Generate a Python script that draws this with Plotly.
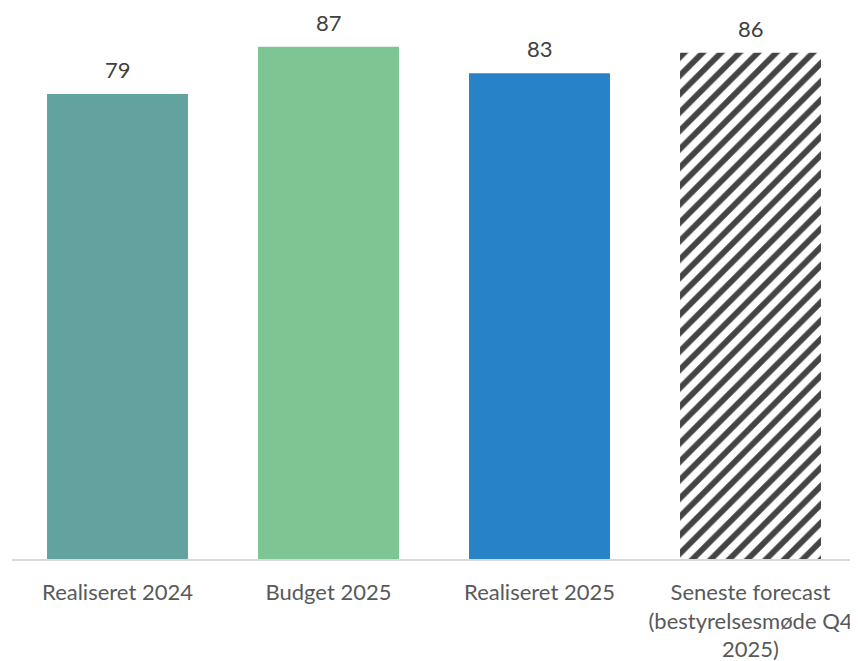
import plotly.graph_objects as go

categories = ["Realiseret 2024", "Budget 2025", "Realiseret 2025",
              "Seneste forecast<br>(bestyrelsesmøde Q4<br>2025)"]
values = [79, 87, 82.5, 86]
colors = ["#62A39F", "#7DC592", "#2882C8", "#FFFFFF"]
shapes = ["", "", "", "/"]

fig = go.Figure()
fig.add_trace(go.Bar(
    x=categories, y=values,
    marker=dict(color=colors, line=dict(width=0),
                pattern=dict(shape=shapes, fgcolor="#000000", bgcolor="#FFFFFF",
                             fgopacity=1, size=13, solidity=0.45)),
    width=0.668,
))
for c, v in zip(categories, values):
    fig.add_annotation(x=c, y=v, text=str(int(v + 0.5)), showarrow=False,
                       yanchor="bottom", yshift=9,
                       font=dict(size=22, color="#404040", family="Lato"))

fig.update_layout(
    width=850, height=654,
    margin=dict(l=4, r=2, t=0, b=103),
    plot_bgcolor="white", paper_bgcolor="white",
    showlegend=False,
    font=dict(family="Lato", size=22, color="#595959"),
)
fig.update_xaxes(showline=True, linecolor="#D9D9D9", linewidth=1.5,
                 ticks="", tickfont=dict(size=22, color="#595959"), ticklabelstandoff=13)
fig.update_yaxes(range=[0, 93.6], visible=False, showgrid=False)
fig.write_html("out.html")
